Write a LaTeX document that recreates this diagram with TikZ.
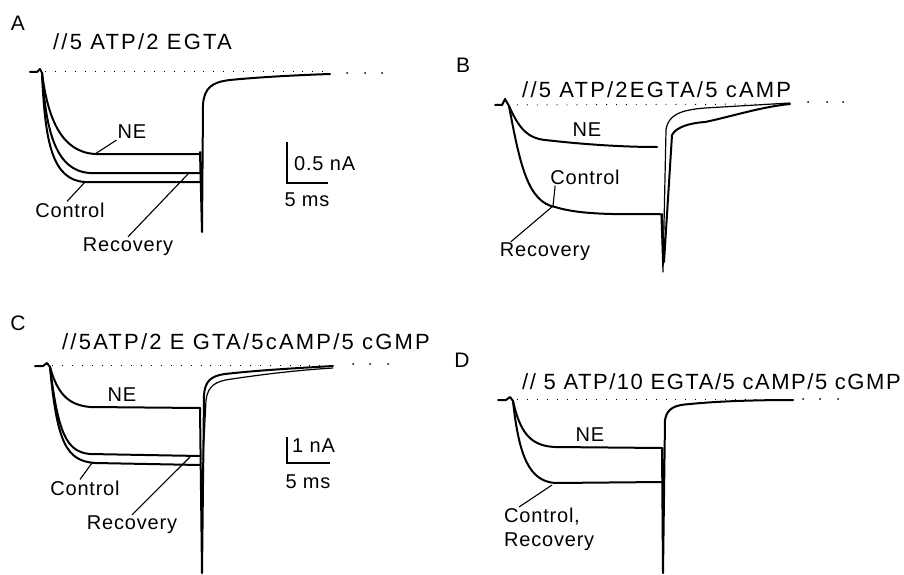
\documentclass[tikz,border=0pt]{standalone}
\usepackage{fontspec}
\setmainfont{Liberation Sans}
\newfontfamily\hdrfont[LetterSpace=10]{Liberation Sans}
\newfontfamily\hdrfontD[LetterSpace=7]{Liberation Sans}
\newfontfamily\lblfont[LetterSpace=4]{Liberation Sans}
\usepackage{tikz}
\usetikzlibrary{calc,arrows}

\tikzset{
  trace/.style={line width=2pt, line join=round, line cap=round},
  thintrace/.style={line width=1.2pt, line join=round},
  leader/.style={line width=1.1pt},
  baseline/.style={line width=1pt, dash pattern=on 0.9pt off 9pt},
  lbl/.style={font=\lblfont\fontsize{20}{24}\selectfont, inner sep=1pt},
  hdr/.style={font=\hdrfont\fontsize{22}{24}\selectfont, anchor=west, inner sep=0pt},
  panel/.style={font=\fontsize{21}{24}\selectfont, inner sep=0pt}
}

\begin{document}
\begin{tikzpicture}[x=1pt,y=-1pt]
        \useasboundingbox (0,0) rectangle (904,575);

        % panel A
        \node[panel] (pA) at (18,23) {A};
        \node[hdr] (hA) at (53,42) {//5 ATP/2 EGTA};
        \draw[baseline] (45,72) -- (330,72);
        \foreach \x in {347,365,382}
        \fill (\x,73) circle (1pt);
        \draw[trace] (30,72) -- (37,72) -- (40,69) -- (42,73);
        \draw[trace] (42,73) .. controls (48,120) and (62,152) .. (95,154) -- (200,154);
        \draw[trace] (42,73) .. controls (46,132) and (56,171) .. (90,173) -- (200,173);
        \draw[trace] (42,73) .. controls (45,142) and (52,180) .. (85,182) -- (200,182);
        \draw[trace] (200,152) -- (202,232) -- (203,105) .. controls (204,88) and (212,82) .. (230,80) .. controls (260,77) and (300,75) .. (330,74);
        \coordinate (tneA) at (95,154);
        \coordinate (tconA) at (85,182);
        \coordinate (trecA) at (188,174);
        \node[lbl] (neA) at (132,132) {NE};
        \node[lbl] (conA) at (70,210) {Control};
        \node[lbl] (recA) at (128,247) {Recovery};
        \draw[leader] (tneA) -- (neA.south west);
        \draw[leader] (tconA) -- ($(conA.north)+(-3,0)$);
        \draw[leader] (trecA) -- (recA.north);
        \draw[leader] (287,142) -- (287,183) -- (328,183);
        \node[lbl, anchor=west] (barA) at (293,164) {0.5 nA};
        \node[lbl] (msA) at (307,200) {5 ms};

        % panel B
        \node[panel] (pB) at (463,65) {B};
        \node[hdr] (hB) at (522,90) {//5 ATP/2EGTA/5 cAMP};
        \draw[baseline] (517,105) -- (790,104);
        \foreach \x in {808,827,843}
        \fill (\x,102) circle (1pt);
        \draw[trace] (495,105) -- (502,105) -- (505,99) -- (509,106);
        \draw[trace] (509,106) .. controls (518,126) and (526,138) .. (545,140) .. controls (580,144) and (620,147) .. (657,147);
        \draw[trace] (509,106) .. controls (520,165) and (528,202) .. (555,207) .. controls (575,213) and (600,215) .. (660,214);
        \draw[thintrace] (661,214) -- (663,272) -- (666,130) .. controls (668,115) and (680,110) .. (705,108) -- (790,103);
        \draw[trace] (662,214) -- (664,262) -- (672,135) .. controls (676,127) and (690,123) .. (705,122) .. controls (730,117) and (760,107) .. (790,104);
        \coordinate (tconB) at (553,206);
        \node[lbl] (neB) at (587,130) {NE};
        \node[lbl] (conB) at (585,177) {Control};
        \node[lbl] (recB) at (545,252) {Recovery};
        \draw[leader] (tconB) -- ($(conB.south west)+(6,0)$);
        \draw[leader] (tconB) -- ($(recB.north west)+(12,0)$);

        % panel C
        \node[panel] (pC) at (18,323) {C};
        \node[hdr] (hC) at (62,342) {//5ATP/2 E GTA/5cAMP/5 cGMP};
        \draw[baseline] (52,365) -- (333,365);
        \foreach \x in {353,370,388}
        \fill (\x,364) circle (1pt);
        \draw[trace] (35,366) -- (43,366) -- (47,363) -- (50,367);
        \draw[trace] (50,367) .. controls (58,396) and (70,405) .. (90,407) -- (200,408);
        \draw[trace] (50,367) .. controls (58,432) and (66,452) .. (90,454) -- (200,456);
        \draw[trace] (50,367) .. controls (57,442) and (66,461) .. (95,463) -- (200,465);
        \draw[trace] (200,408) -- (202,573) -- (204,395) .. controls (205,382) and (210,376) .. (225,374) .. controls (260,370) and (300,368) .. (333,366);
        \draw[thintrace] (203,460) -- (206,400) .. controls (208,386) and (215,381) .. (232,379) .. controls (265,374) and (300,370) .. (333,368);
        \coordinate (tconC) at (92,463);
        \coordinate (trecC) at (190,457);
        \node[lbl] (neC) at (122,395) {NE};
        \node[lbl] (conC) at (85,488) {Control};
        \node[lbl] (recC) at (132,525) {Recovery};
        \draw[leader] (tconC) -- ($(conC.north)+(-5,0)$);
        \draw[leader] (trecC) -- (recC.north);
        \draw[leader] (287,437) -- (287,463) -- (330,463);
        \node[lbl, anchor=west] (barC) at (291,446) {1 nA};
        \node[lbl] (msC) at (308,482) {5 ms};

        % panel D
        \node[panel] (pD) at (462,360) {D};
        \node[hdr, font=\hdrfontD\fontsize{22}{24}\selectfont] (hD) at (522,382) {// 5 ATP/10 EGTA/5 cAMP/5 cGMP};
        \draw[baseline] (517,399) -- (793,399);
        \foreach \x in {803,820,838}
        \fill (\x,399) circle (1pt);
        \draw[trace] (498,400) -- (506,400) -- (510,397) -- (513,401);
        \draw[trace] (513,401) .. controls (520,432) and (530,446) .. (555,447) -- (662,448);
        \draw[trace] (513,401) .. controls (519,458) and (530,481) .. (555,483) -- (662,482);
        \draw[trace] (662,448) -- (663,573) -- (665,420) .. controls (667,408) and (675,405) .. (690,404) .. controls (720,401) and (760,400) .. (793,400);
        \coordinate (tconD) at (552,485);
        \node[lbl, anchor=north west, align=left] (conD) at (503,507) {Control,\\Recovery};
        \node[lbl] (neD) at (590,435) {NE};
        \draw[leader] (tconD) -- ($(conD.north west)+(16,0)$);
    \end{tikzpicture}
\end{document}
